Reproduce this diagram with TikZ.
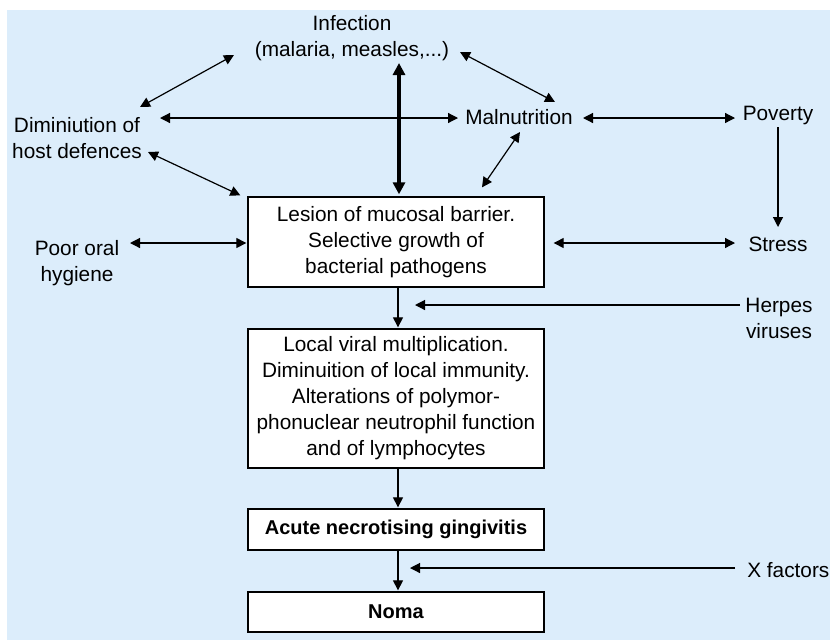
\documentclass[tikz,border=0pt]{standalone}
\usepackage{fontspec}
\setmainfont{Liberation Sans}
\usetikzlibrary{arrows.meta}
\definecolor{bgblue}{RGB}{220,237,251}
\begin{document}
\begin{tikzpicture}[x=0.75pt,y=-0.75pt,
  lbl/.style={font=\fontsize{15.6}{19.5}\selectfont, inner sep=0pt, align=center},
  box/.style={lbl, draw=black, line width=1pt, fill=white, minimum width=222pt},
  boldbox/.style={box, font=\fontsize{15}{19}\selectfont\bfseries},
  tip/.style={Triangle[length=7.5pt,width=7.5pt]},
  dbl/.style={{Triangle[length=7.5pt,width=7.5pt]}-{Triangle[length=7.5pt,width=7.5pt]}, line width=0.9pt},
  one/.style={-{Triangle[length=7.5pt,width=7.5pt]}, line width=0.9pt},
  thick dbl/.style={{Triangle[length=9pt,width=9pt]}-{Triangle[length=9pt,width=9pt]}, line width=3pt}]
\useasboundingbox (0,0) rectangle (830,640);
\fill[bgblue] (7,10) rectangle (830,640);

% text nodes
\node[lbl] (inf) at (352,38) {Infection\\(malaria, measles,...)};
\node[lbl] (dim) at (77,138) {Diminiution of\\host defences};
\node[lbl] (mal) at (519,117) {Malnutrition};
\node[lbl] (pov) at (778,115) {Poverty};
\node[lbl] (poor) at (77,263) {Poor oral\\hygiene};
\node[lbl] (stress) at (778,244) {Stress};
\node[lbl] (herpes) at (779,318) {Herpes\\viruses};
\node[lbl, anchor=west] (xf) at (747,570) {X factors};

% boxes
\node[box, minimum height=67.5pt] (b1) at (396,242) {Lesion of mucosal barrier.\\Selective growth of\\bacterial pathogens};
\node[box, minimum height=104.25pt] (b2) at (396,398.5) {Local viral multiplication.\\Diminuition of local immunity.\\Alterations of polymor-\\phonuclear neutrophil function\\and of lymphocytes};
\node[boldbox, minimum height=30.75pt] (b3) at (396,529.5) {Acute necrotising gingivitis};
\node[boldbox, minimum height=30pt] (b4) at (396,612) {Noma};

\coordinate (herpesEnd) at (415,305);
\coordinate (xfEnd) at (410,568);

% connectors
\draw[dbl] ([shift={(-118,17)}]inf.center) -- ([shift={(63,-31)}]dim.center);
\draw[dbl] ([shift={(108,14)}]inf.center) -- ([shift={(36,-15)}]mal.center);
\draw[thick dbl] ([shift={(47,25)}]inf.center) -- ([shift={(3,-2)}]b1.north);
\draw[dbl] ([shift={(83,-20)}]dim.center) -- ([shift={(-61,1)}]mal.center);
\draw[dbl] ([shift={(71,14)}]dim.center) -- ([shift={(-7,-1)}]b1.north west);
\draw[dbl] ([shift={(64,1)}]mal.center) -- ([shift={(-43,3)}]pov.center);
\draw[dbl] ([shift={(1,15)}]mal.center) -- ([shift={(86,-9)}]b1.north);
\draw[one] ([shift={(0,12)}]pov.center) -- ([shift={(0,-17)}]stress.center);
\draw[dbl] ([shift={(53,-20)}]poor.center) -- ([shift={(-1,1)}]b1.west);
\draw[dbl] ([shift={(9,1)}]b1.east) -- ([shift={(-43,-1)}]stress.center);
\draw[one] ([shift={(2,0)}]b1.south) -- ([shift={(2,-1)}]b2.north);
\draw[one] ([shift={(-39,-13)}]herpes.center) -- (herpesEnd);
\draw[one] ([shift={(2,0)}]b2.south) -- ([shift={(2,-1)}]b3.north);
\draw[one] ([shift={(2,0)}]b3.south) -- ([shift={(2,-1)}]b4.north);
\draw[one] ([shift={(-12,-2)}]xf.west) -- (xfEnd);
\end{tikzpicture}
\end{document}
